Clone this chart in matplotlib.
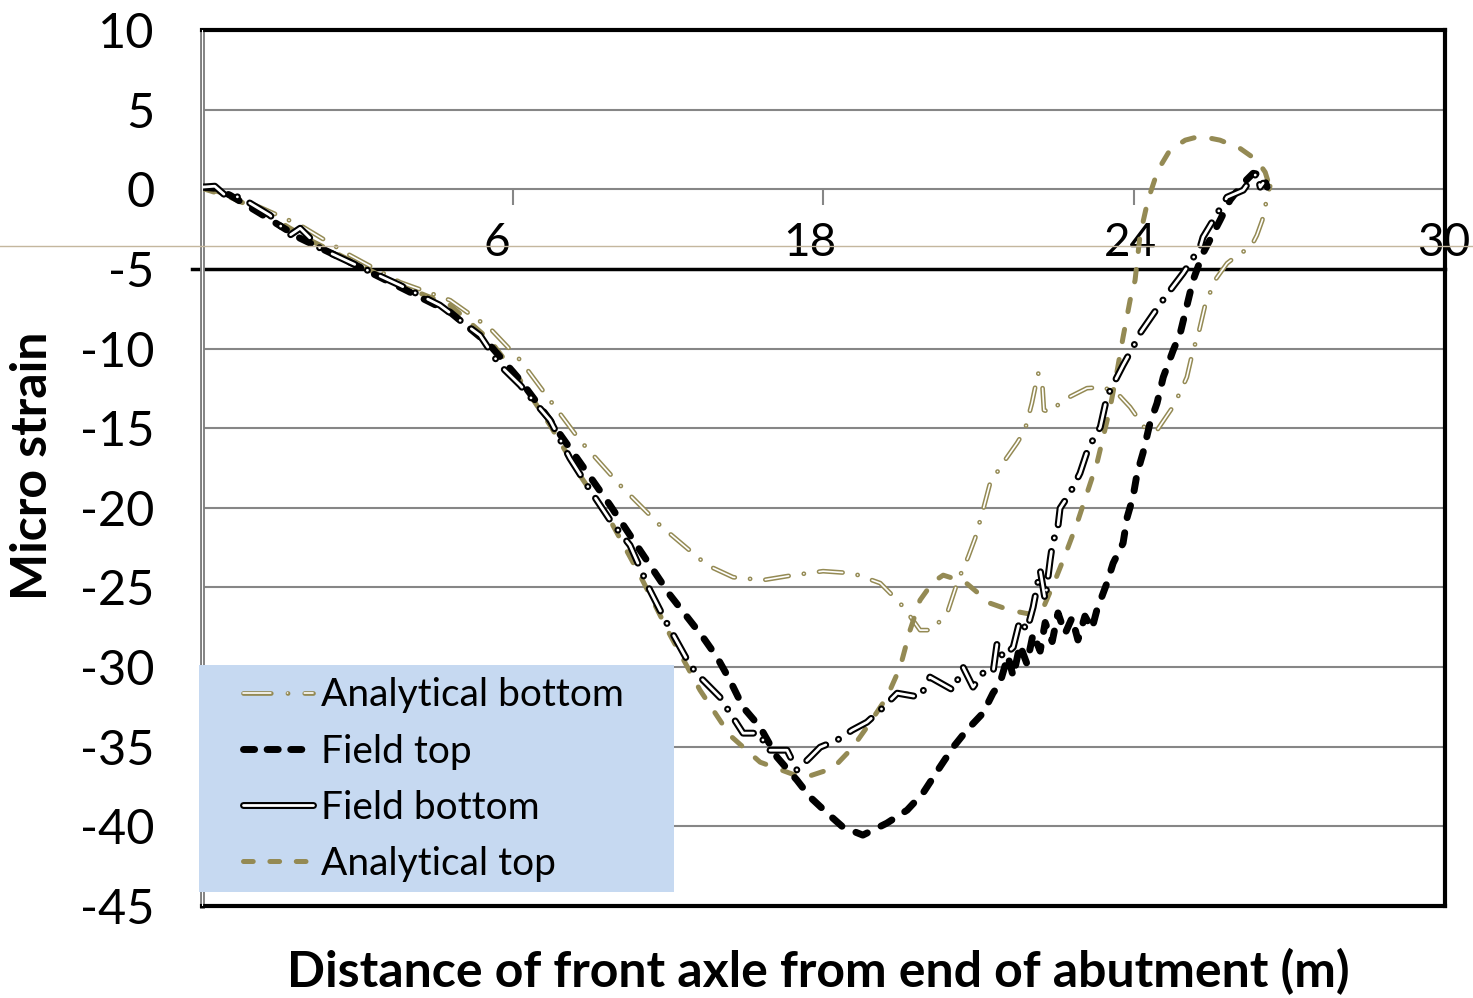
import matplotlib.pyplot as plt
from matplotlib.patches import Rectangle
from matplotlib.lines import Line2D
import numpy as np

plt.rcParams['font.family'] = ['Lato', 'DejaVu Sans']
plt.rcParams['lines.scale_dashes'] = False
plt.rcParams['axes.unicode_minus'] = False

# data (x: distance, y: micro strain)
at_x = [0, 0.68, 1.40, 2.61, 3.81, 4.78, 5.99, 6.95, 7.68, 8.40, 9.12, 9.85, 10.57, 11.30,
        12.02, 12.74, 13.47, 14.51, 15.23, 15.69, 16.05, 16.53, 16.85, 17.09, 17.33, 17.64,
        17.89, 18.42, 19.02, 19.50, 20.11, 20.28, 20.59, 20.83, 21.12, 21.36, 21.60, 21.75,
        21.92, 22.09, 22.23, 22.40, 22.52, 22.64, 22.83, 23.07, 23.36, 23.73, 24.09, 24.57,
        25.05, 25.46, 25.66, 25.78]
at_y = [0.06, -0.50, -1.32, -3.20, -4.77, -6.03, -7.28, -9.48, -11.99, -14.81, -17.95, -20.78,
        -24.23, -28.00, -31.45, -34.28, -35.97, -36.97, -36.35, -35.09, -33.77, -31.89, -30.01,
        -27.68, -25.80, -24.67, -24.23, -24.67, -25.99, -26.43, -26.74, -26.43, -24.55, -22.98,
        -20.97, -19.08, -17.20, -15.57, -13.68, -11.36, -9.29, -6.97, -5.71, -2.89, -0.69, 1.19,
        2.45, 3.08, 3.33, 3.08, 2.57, 1.82, 1.07, 0.06]

ab_x = [0, 0.68, 1.40, 2.37, 3.57, 4.78, 5.99, 6.95, 7.68, 8.40, 9.12, 10.09, 11.05, 12.19,
        12.82, 13.54, 14.27, 14.99, 15.71, 16.37, 16.85, 17.16, 17.33, 17.64, 18.01, 18.25,
        18.49, 18.66, 18.85, 19.02, 19.33, 19.67, 19.86, 20.03, 20.18, 20.28, 20.32, 20.47,
        20.78, 21.36, 21.75, 22.09, 22.40, 22.76, 23.05, 23.41, 23.61, 23.77, 23.92, 24.04,
        24.21, 24.45, 24.74, 25.05, 25.30, 25.46, 25.59, 25.73, 25.78]
ab_y = [0.13, -0.38, -1.13, -2.26, -4.14, -5.84, -6.97, -8.73, -10.73, -13.25, -15.76, -18.58,
        -21.09, -23.60, -24.36, -24.54, -24.23, -23.98, -24.11, -24.73, -25.99, -27.06, -27.68,
        -27.68, -26.43, -24.54, -23.10, -21.91, -20.15, -18.46, -17.20, -15.94, -15.13, -13.43,
        -11.55, -12.18, -13.87, -14.00, -13.25, -12.49, -12.43, -12.81, -13.68, -15.00, -15.13,
        -13.75, -12.74, -11.80, -10.11, -9.17, -7.28, -5.71, -4.65, -4.02, -3.70, -2.89, -1.95,
        -0.25, 0.19]

ft_x = [0, 0.31, 0.68, 1.40, 2.37, 3.57, 4.78, 5.99, 6.95, 7.68, 8.40, 9.12, 9.85, 10.57,
        11.30, 12.09, 12.43, 12.74, 13.06, 13.47, 13.88, 14.36, 14.68, 15.09, 15.47, 15.95,
        16.53, 17.02, 17.40, 17.81, 18.13, 18.46, 18.85, 19.09, 19.26, 19.45, 19.58, 19.74,
        19.91, 20.06, 20.23, 20.35, 20.52, 20.66, 20.83, 21.00, 21.14, 21.31, 21.48, 21.60,
        21.84, 21.99, 22.23, 22.33, 22.47, 22.57, 22.71, 22.88, 23.05, 23.20, 23.44, 23.61,
        23.92, 24.16, 24.57, 24.81, 25.13, 25.37, 25.61, 25.71]
ft_y = [0.13, 0.06, -0.38, -1.51, -3.08, -4.58, -6.15, -7.72, -9.79, -11.99, -14.50, -17.14,
        -19.84, -22.66, -25.49, -28.12, -29.38, -30.82, -32.52, -33.77, -35.66, -37.10, -38.17,
        -39.17, -40.05, -40.55, -39.80, -38.98, -37.92, -36.28, -35.03, -33.96, -32.89, -31.64,
        -31.0, -29.3, -30.6, -28.6, -29.8, -27.9, -29.0, -27.2, -28.4, -26.6, -27.9, -26.9,
        -28.3, -26.8, -27.6, -26.4, -24.73, -23.48, -22.22, -20.59, -19.33, -17.83, -16.57,
        -14.69, -13.43, -11.80, -10.11, -9.04, -5.71, -4.02, -1.95, -0.69, 0.38, 1.00, 0.88, 0.13]

fb_x = [0, 0.31, 0.56, 0.92, 1.64, 2.12, 2.37, 2.85, 3.57, 4.78, 5.74, 6.71, 7.19, 7.68, 8.40,
        8.88, 9.37, 9.85, 10.33, 10.81, 11.18, 11.78, 12.02, 12.50, 13.06, 13.47, 13.64, 14.12,
        14.36, 14.68, 14.92, 15.33, 15.69, 16.05, 16.37, 16.78, 17.33, 17.57, 18.13, 18.37,
        18.61, 18.85, 19.09, 19.19, 19.33, 19.58, 19.74, 19.91, 20.06, 20.23, 20.35, 20.47,
        20.54, 20.64, 20.71, 20.95, 21.19, 21.39, 21.68, 21.84, 21.92, 22.23, 22.47, 22.64,
        23.24, 23.68, 24.09, 24.16, 24.74, 25.13, 25.30, 25.46, 25.54, 25.61]
fb_y = [0.13, 0.19, -0.38, -0.50, -1.63, -2.89, -2.45, -3.70, -4.58, -6.03, -7.28, -9.17,
        -11.05, -12.30, -14.50, -16.89, -18.90, -20.78, -22.35, -25.17, -27.06, -29.88, -30.63,
        -31.89, -34.15, -34.15, -35.22, -35.22, -36.47, -35.66, -35.03, -34.59, -33.96, -33.46,
        -32.71, -31.64, -31.89, -30.63, -31.45, -30.01, -31.26, -30.38, -30.38, -28.50, -29.38,
        -28.75, -27.06, -27.68, -26.24, -23.92, -25.80, -23.29, -22.03, -21.59, -20.03, -19.08,
        -17.83, -16.26, -14.94, -13.06, -12.62, -11.05, -9.92, -9.04, -6.78, -5.27, -3.64,
        -3.01, -0.50, -0.06, 0.56, 1.00, 0.13, 0.38]

y_ticks = list(range(-45, 11, 5))
x_tick_marks = [7.5, 15, 22.5, 30]
x_label_pos = [7.12, 14.68, 22.42, 29.98]
x_labels = ['6', '18', '24', '30']

olive = '#948A54'
grid_gray = '#868686'

ab_dash = (17, 11, 0.1, 11)
at_dash = (9, 13)
ft_dash = (9, 11)
fb_dash = (18, 10, 0.1, 10)

fig = plt.figure(figsize=(14.73, 9.98), dpi=100)
ax = fig.add_axes([0.1371, 0.0922, 0.8439, 0.8778])
ax.set_xlim(0, 30)
ax.set_ylim(-45, 10)

# gridlines
for y in y_ticks[1:-1]:
    if y == -5:
        continue
    ax.axhline(y, color=grid_gray, lw=1.5, zorder=1)
ax.vlines(x_tick_marks, -1.0, 0, color=grid_gray, lw=1.5, zorder=1)

# horizontal axis line crossing at -5
ax.plot([-0.25, 30], [-5, -5], color='black', lw=2.5, zorder=2, clip_on=False)
for xp, lab in zip(x_label_pos, x_labels):
    ax.text(xp, -3.4, lab, ha='center', va='center', fontsize=33, zorder=3)

# analytical bottom: olive double line, dash-dot
ax.plot(ab_x, ab_y, color=olive, lw=3.4, dashes=ab_dash, dash_capstyle='round', zorder=3)
ax.plot(ab_x, ab_y, color='white', lw=1.2, dashes=ab_dash, dash_capstyle='round', zorder=3)

# analytical top: olive dashed
ax.plot(at_x, at_y, color=olive, lw=3.6, dashes=at_dash, dash_capstyle='round', zorder=3)

# field top: black heavy dashed
ax.plot(ft_x, ft_y, color='black', lw=5.0, dashes=ft_dash, dash_capstyle='round', zorder=4)

# field bottom: black/white double line, dash-dot
ax.plot(fb_x, fb_y, color='black', lw=5.0, dashes=fb_dash, dash_capstyle='round', zorder=5)
ax.plot(fb_x, fb_y, color='white', lw=2.0, dashes=fb_dash, dash_capstyle='round', zorder=5)

ax.set_xticks([])
ax.set_yticks(y_ticks)
ax.tick_params(axis='y', length=0, pad=34, labelsize=35)

for side in ['top', 'right', 'bottom']:
    ax.spines[side].set_linewidth(3)
    ax.spines[side].set_color('black')
ax.spines['left'].set_linewidth(3.5)
ax.spines['left'].set_color('#7f7f7f')
ax.axvline(0, color='white', lw=0.8, zorder=6)

# legend
ax.add_patch(Rectangle((-0.002, 0.016), 0.382, 0.259, transform=ax.transAxes,
                       facecolor='#C6D9F1', edgecolor='none', zorder=7, clip_on=False))
h_ab = (Line2D([], [], color=olive, lw=3.4, dashes=(20, 12, 0.1, 12), dash_capstyle='round'),
        Line2D([], [], color='white', lw=1.2, dashes=(20, 12, 0.1, 12), dash_capstyle='round'))
h_ft = Line2D([], [], color='black', lw=5.0, dashes=(8, 9), dash_capstyle='round')
h_fb = (Line2D([], [], color='black', lw=5.0, solid_capstyle='round'),
        Line2D([], [], color='white', lw=2.0, solid_capstyle='round'))
h_at = Line2D([], [], color=olive, lw=3.6, dashes=(7, 12), dash_capstyle='round')
leg = ax.legend([h_ab, h_ft, h_fb, h_at],
                ['Analytical bottom', 'Field top', 'Field bottom', 'Analytical top'],
                loc='upper left', bbox_to_anchor=(0.033, 0.261), frameon=False,
                fontsize=28, handlelength=1.8, handletextpad=0.2, labelspacing=0.52,
                borderpad=0, borderaxespad=0)
leg.set_zorder(8)

# stray thin line across the figure
fig.add_artist(Line2D([0, 1], [1 - 246 / 998, 1 - 246 / 998], color='#c4b79e', lw=1.0, zorder=10))

fig.text(818 / 1473, 1 - 972 / 998, 'Distance of front axle from end of abutment (m)',
         ha='center', va='center', fontsize=36, fontweight='bold')
fig.text(33 / 1473, 1 - 466 / 998, 'Micro strain', rotation=90,
         ha='center', va='center', fontsize=36, fontweight='bold')

fig.savefig('out.png', dpi=100)
